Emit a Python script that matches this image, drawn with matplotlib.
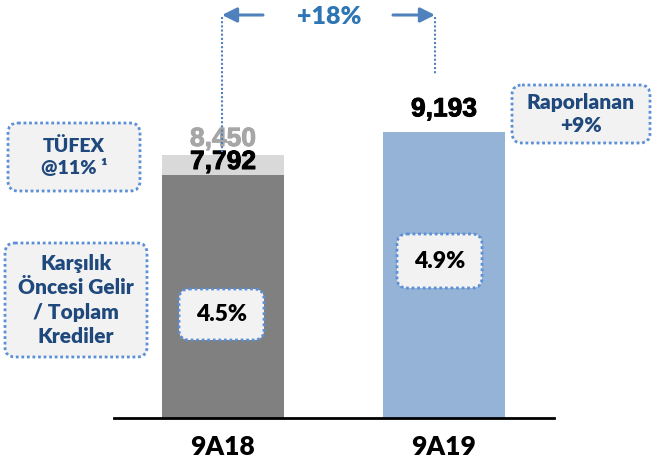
import matplotlib
matplotlib.use("Agg")
import matplotlib.pyplot as plt
from matplotlib.patches import FancyBboxPatch, FancyArrowPatch
from matplotlib import font_manager as fm
import matplotlib.patheffects as pe

# ---- data ----
categories = ["9A18", "9A19"]
core_values = [7792, 9193]          # main bars
tufex_values = [8450, None]          # inflation-adjusted (TÜFEX) top for 9A18
growth_label = "+18%"
margin_labels = ["4.5%", "4.9%"]
value_labels = ["7,792", "9,193"]
tufex_label = "8,450"

W, H = 654, 463
fig = plt.figure(figsize=(W / 100, H / 100), dpi=100)

FONT = ["Lato", "DejaVu Sans"]
arial_bold_path = fm.findfont(fm.FontProperties(family="Liberation Sans", weight="bold"))
NUMFONT = fm.FontProperties(fname=arial_bold_path, size=19)

# main axes (pixel geometry: baseline y=418, x 114..554)
ax_left, ax_right, ax_base = 114, 554, 418
ax = fig.add_axes([ax_left / W, (H - ax_base) / H, (ax_right - ax_left) / W, ax_base / H])
ax.set_xlim(-0.493, 1.498)
ax.set_ylim(0, 418 * 32.1)
bar_w = 0.552
ax.bar(0, tufex_values[0], width=bar_w, color="#D9D9D9", zorder=1)
ax.bar(0, core_values[0], width=bar_w, color="#808080", zorder=2)
ax.bar(1, core_values[1], width=bar_w, color="#95B3D7", zorder=2)
for s in ["top", "right", "left"]:
    ax.spines[s].set_visible(False)
ax.spines["bottom"].set_color("black")
ax.spines["bottom"].set_linewidth(2)
ax.set_yticks([])
ax.set_xticks([0, 1])
ax.set_xticklabels(categories, fontsize=19, fontweight="heavy", family=FONT)
ax.tick_params(axis="x", length=0, pad=12)

# value labels on bars
for xpos, yval, lab, col, z in [(0, tufex_values[0] + 120, tufex_label, "#A6A6A6", 4),
                                (0, core_values[0] + 40, value_labels[0], "black", 5),
                                (1, core_values[1] + 330, value_labels[1], "black", 5)]:
    ax.text(xpos, yval, lab, ha="center", va="bottom", fontproperties=NUMFONT,
            color=col, zorder=z,
            path_effects=[pe.withStroke(linewidth=0.7, foreground=col)])

# overlay in pixel coordinates for callouts
ov = fig.add_axes([0, 0, 1, 1], zorder=10)
ov.set_xlim(0, W)
ov.set_ylim(H, 0)
ov.axis("off")
ov.patch.set_alpha(0)

BLUE_DOT = "#5B8FD6"
DARK_BLUE = "#1F497D"


def box(x0, y0, x1, y1, text, color, size, ls=1.2, pad=8):
    p = FancyBboxPatch((x0 + pad, y0 + pad), (x1 - x0) - 2 * pad, (y1 - y0) - 2 * pad,
                       boxstyle=f"round,pad={pad},rounding_size=10",
                       facecolor="#F2F2F2", edgecolor=BLUE_DOT, linewidth=2,
                       linestyle=(0, (1, 1)))
    ov.add_patch(p)
    ov.text((x0 + x1) / 2, (y0 + y1) / 2, text, ha="center", va="center",
            fontsize=size, fontweight="heavy", color=color, family=FONT,
            linespacing=ls)


box(8, 123, 140, 191, "TÜFEX\n@11% ¹", DARK_BLUE, 14, ls=1.3)
box(5, 243, 147, 357, "Karşılık\nÖncesi Gelir\n/ Toplam\nKrediler", DARK_BLUE, 15, ls=1.32)
box(512, 85, 650, 143, "Raporlanan\n+9%", DARK_BLUE, 15, ls=1.25)
box(397, 234, 482, 288, margin_labels[1], "black", 16.5)
box(179, 289, 264, 340, margin_labels[0], "black", 16.5)

# growth arrows and dotted guides
ARROW = "#4F81BD"
ov.plot([222, 222], [17, 152], color=ARROW, lw=1.5, ls=(0, (1, 1)))
ov.plot([435, 435], [17, 75], color=ARROW, lw=1.5, ls=(0, (1, 1)))
ov.add_patch(FancyArrowPatch((263, 15), (222, 15), arrowstyle="-|>", mutation_scale=22,
                             color=ARROW, lw=2.2, shrinkA=0, shrinkB=0))
ov.add_patch(FancyArrowPatch((393, 15), (435, 15), arrowstyle="-|>", mutation_scale=22,
                             color=ARROW, lw=2.2, shrinkA=0, shrinkB=0))
ov.text(329, 17, growth_label, ha="center", va="center", fontsize=18, fontweight="heavy",
        color="#2E75B6", family=FONT)

fig.savefig("out.png", dpi=100)
